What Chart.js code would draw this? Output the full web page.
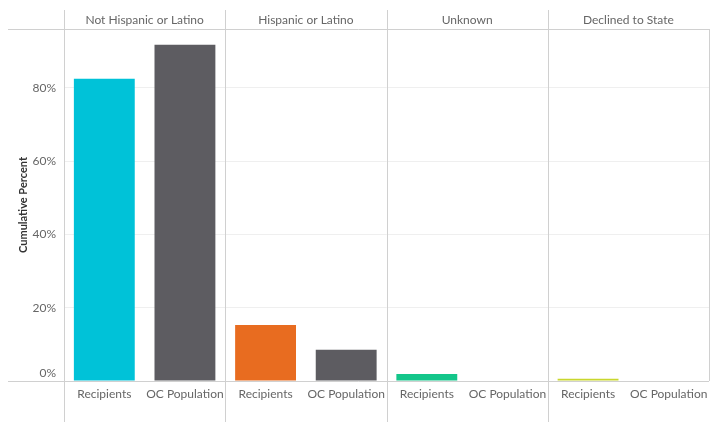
<!DOCTYPE html>
<html>
<head>
<meta charset="utf-8">
<script src="https://cdn.jsdelivr.net/npm/chart.js@4"></script>
<style>
html,body{margin:0;padding:0;background:#fff;}
#wrap{width:714px;height:422px;position:relative;}
</style>
</head>
<body>
<div id="wrap"><canvas id="c" width="714" height="422"></canvas></div>
<script>
const groups = ["Not Hispanic or Latino", "Hispanic or Latino", "Unknown", "Declined to State"];
const subCategories = ["Recipients", "OC Population"];
const recipients = [82.4, 15.3, 1.9, 0.6];
const ocPopulation = [91.7, 8.5, 0, 0];
const yTicks = [0, 20, 40, 60, 80];
const recipientColors = ["#00C2D8", "#E86C20", "#14C68A", "#C9D72E"];
const ocColor = "#5D5C61";

const labels = [];
const values = [];
const colors = [];
groups.forEach((g, i) => {
  labels.push(subCategories[0]); values.push(recipients[i]); colors.push(recipientColors[i]);
  labels.push(subCategories[1]); values.push(ocPopulation[i]); colors.push(ocColor);
});

const FONT = "Lato, 'Open Sans', sans-serif";
const TEXT = "#666";
const LINE = "#d0d0d0";

const panelPlugin = {
  id: 'panels',
  afterDraw(chart) {
    const ctx = chart.ctx;
    const x = chart.scales.x, y = chart.scales.y;
    const area = chart.chartArea;
    const y0 = y.getPixelForValue(0);
    const bounds = [area.left];
    for (let i = 1; i < groups.length; i++) {
      bounds.push((x.getPixelForValue(2 * i - 1) + x.getPixelForValue(2 * i)) / 2);
    }
    bounds.push(area.right);
    ctx.save();
    ctx.lineWidth = 1;
    ctx.strokeStyle = LINE;
    ctx.beginPath();
    ctx.moveTo(8, Math.round(area.top) + 0.5); ctx.lineTo(area.right, Math.round(area.top) + 0.5);
    ctx.moveTo(8, Math.round(y0) + 0.5); ctx.lineTo(area.right, Math.round(y0) + 0.5);
    ctx.stroke();
    ctx.beginPath();
    for (let i = 0; i < groups.length; i++) {
      const bx = Math.round(bounds[i]) + 0.5;
      ctx.moveTo(bx, 10); ctx.lineTo(bx, chart.height);
    }
    const rx = Math.round(bounds[groups.length]) + 0.5;
    ctx.moveTo(rx, area.top); ctx.lineTo(rx, y0);
    ctx.stroke();
    ctx.fillStyle = TEXT;
    ctx.font = "12px " + FONT;
    ctx.textAlign = 'center';
    ctx.textBaseline = 'middle';
    for (let i = 0; i < groups.length; i++) {
      ctx.fillText(groups[i], (bounds[i] + bounds[i + 1]) / 2, 20);
    }
    // bottom tick label sits just above the baseline
    ctx.textAlign = 'right';
    ctx.fillText(yTicks[0] + '%', area.left - 8, y.getPixelForValue(yTicks[0]) - 8);
    ctx.restore();
  }
};

new Chart(document.getElementById('c'), {
  type: 'bar',
  data: {
    labels: labels,
    datasets: [{
      data: values,
      backgroundColor: colors,
      borderWidth: 0,
      barPercentage: 0.755,
      categoryPercentage: 1.0
    }]
  },
  options: {
    responsive: false,
    animation: false,
    devicePixelRatio: 1,
    layout: { padding: { top: 29, right: 5, left: 0, bottom: 0 } },
    plugins: { legend: { display: false }, tooltip: { enabled: false } },
    scales: {
      x: {
        grid: { display: false, drawTicks: false },
        border: { display: false },
        ticks: { color: TEXT, font: { family: FONT, size: 12 }, padding: 6, maxRotation: 0, autoSkip: false },
        afterFit(s) { s.height = 41; }
      },
      y: {
        min: 0,
        max: 96,
        afterBuildTicks(s) { s.ticks = yTicks.map(v => ({ value: v })); },
        grid: { color: "#efefef", drawTicks: false },
        border: { display: false },
        ticks: { color: TEXT, font: { family: FONT, size: 12 }, padding: 8, callback: v => (v === yTicks[0] ? '' : v + '%') },
        title: { display: true, text: 'Cumulative Percent', color: '#333', font: { family: FONT, size: 11, weight: 'bold' }, padding: { top: 17, bottom: 0 } },
        afterFit(s) { s.width = 64; }
      }
    }
  },
  plugins: [panelPlugin]
});
</script>
</body>
</html>
